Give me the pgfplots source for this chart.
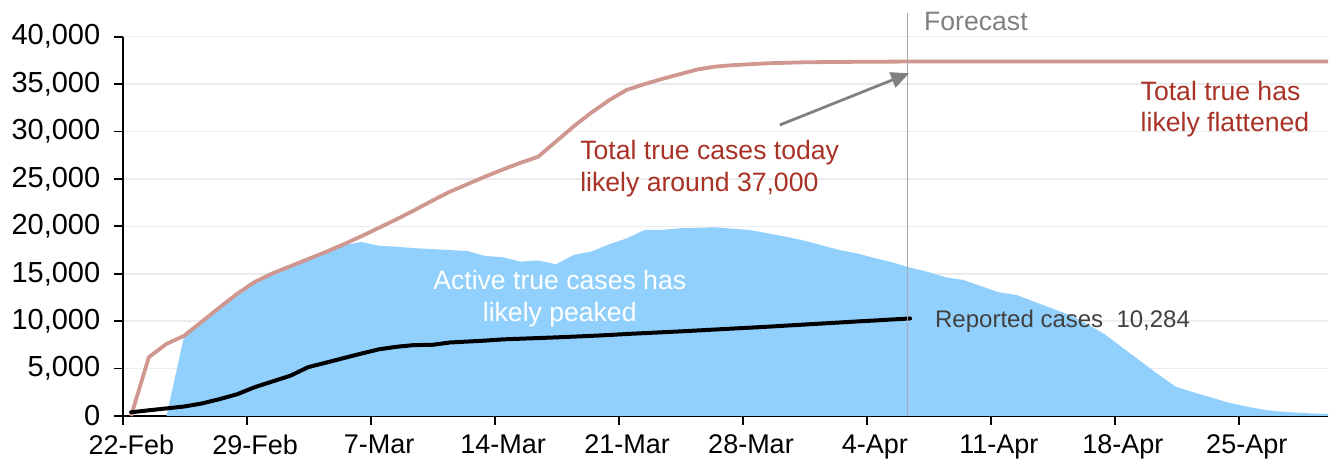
\documentclass[border=0pt]{standalone}
\usepackage{fontspec}
\setmainfont{Liberation Sans}
\usepackage{pgfplots}
\pgfplotsset{compat=1.18}
\usetikzlibrary{arrows.meta}
\definecolor{actblue}{RGB}{145,208,253}
\definecolor{totpink}{RGB}{207,151,143}
\definecolor{annred}{RGB}{169,50,38}
\definecolor{gridgray}{RGB}{236,236,236}
\definecolor{fcgray}{RGB}{170,170,170}
\definecolor{arrgray}{RGB}{128,128,128}
\definecolor{txtgray}{RGB}{64,64,64}
\begin{document}
\begin{tikzpicture}
\begin{axis}[
 name=ax,
 at={(0,0)}, anchor=south west,
 scale only axis,
 width=602.35pt, height=189.65pt,
 xmin=-0.44, xmax=67.6,
 ymin=0, ymax=40000,
 axis x line*=bottom, axis y line*=left,
 axis line style={line width=0.9pt, -},
 xtick={-0.44,6.56,13.56,20.56,27.56,34.56,41.56,48.56,55.56,62.56},
 xticklabels={22-Feb,29-Feb,7-Mar,14-Mar,21-Mar,28-Mar,4-Apr,11-Apr,18-Apr,25-Apr},
 ytick={0,5000,...,40000},
 tick align=outside,
 major tick length=4.5pt,
 tick style={line width=0.9pt, black},
 ymajorgrids, grid style={gridgray, line width=0.8pt},
 yticklabel style={font=\fontsize{14.5}{17}\selectfont, xshift=-3.5pt},
 xticklabel style={font=\fontsize{13.5}{16}\selectfont, xshift=4pt, yshift=-1.5pt},
 scaled y ticks=false,
 clip=false,
 /pgf/number format/1000 sep={,},
 /pgf/number format/assume math mode=true,
]
% Active true cases (area)
\addplot[fill=actblue, draw=none] coordinates {
(2,0)(3,8470)(4,9950)(5,11450)(6,12900)(7,14150)(8,15050)(9,15800)(10,16550)
(11,17300)(12,18000)(13,18350)(14,17950)(15,17850)(16,17700)(17,17600)(18,17500)
(19,17400)(20,16880)(21,16740)(22,16280)(23,16400)(24,16000)(25,16990)(26,17340)
(27,18110)(28,18740)(29,19620)(30,19620)(31,19800)(32,19850)(33,19900)(34,19750)
(35,19600)(36,19250)(37,18900)(38,18500)(39,18000)(40,17500)(41,17150)(42,16650)
(43,16200)(44,15650)(45,15200)(46,14630)(47,14350)(48,13700)(49,13050)(50,12770)
(51,12050)(52,11350)(53,10650)(54,9700)(55,8600)(56,7200)(57,5800)(58,4400)
(59,3090)(60,2500)(61,1950)(62,1400)(63,1000)(64,650)(65,450)(66,330)(67,250)(67.6,220)
} \closedcycle;
% Total true cases
\addplot[totpink, line width=1.9pt, line join=round] coordinates {
(0,0)(1,6200)(2,7600)(3,8470)(4,9950)(5,11450)(6,12900)(7,14150)(8,15050)(9,15800)
(10,16550)(11,17300)(12,18100)(13,18950)(14,19850)(15,20750)(16,21700)(17,22700)
(18,23650)(19,24450)(20,25250)(21,26000)(22,26700)(23,27350)(24,28950)(25,30550)
(26,32000)(27,33300)(28,34400)(29,35000)(30,35550)(31,36050)(32,36550)(33,36850)
(34,37000)(35,37100)(36,37200)(37,37250)(38,37300)(39,37320)(40,37340)(41,37350)
(42,37360)(43,37370)(44,37380)(46,37380)(48,37380)(50,37380)(52,37390)(54,37390)
(56,37390)(58,37390)(60,37390)(62,37390)(64,37390)(66,37390)(67.6,37390)
};
% Reported cases
\addplot[black, line width=2pt, line join=round, line cap=round] coordinates {
(0,390)(1,600)(2,800)(3,1000)(4,1320)(5,1780)(6,2300)(7,3050)(8,3650)(9,4250)
(10,5150)(11,5620)(12,6100)(13,6580)(14,7030)(15,7300)(16,7480)(17,7500)(18,7750)
(19,7850)(20,7950)(21,8080)(22,8150)(23,8220)(24,8290)(25,8370)(26,8450)(27,8540)
(28,8650)(29,8740)(30,8830)(31,8920)(32,9020)(33,9120)(34,9220)(35,9320)(36,9420)
(37,9530)(38,9640)(39,9750)(40,9860)(41,9970)(42,10070)(43,10180)(44,10284)
};
% forecast line
\draw[fcgray, line width=0.6pt] (axis cs:43.84,0) -- (axis cs:43.84,42500);
\node[anchor=base west, inner sep=0pt, text=arrgray, font=\fontsize{13.3}{16}\selectfont] at (axis cs:44.77,40700) {Forecast};
% arrow
\draw[arrgray, line width=1.4pt, -{Triangle[length=9pt,width=8pt]}] (axis cs:36.64,30690) -- (axis cs:43.94,36140);
% annotations
\node[anchor=base west, inner sep=0pt, text=annred, font=\fontsize{13.3}{16}\selectfont] at (axis cs:25.35,27000) {Total true cases today};
\node[anchor=base west, inner sep=0pt, text=annred, font=\fontsize{13.3}{16}\selectfont] at (axis cs:25.35,23650) {likely around 37,000};
\node[anchor=base west, inner sep=0pt, text=annred, font=\fontsize{13.3}{16}\selectfont] at (axis cs:57.0,33320) {Total true has};
\node[anchor=base west, inner sep=0pt, text=annred, font=\fontsize{13.3}{16}\selectfont] at (axis cs:57.0,29980) {likely flattened};
\node[anchor=base, inner sep=0pt, text=white, font=\fontsize{13.3}{16}\selectfont] at (axis cs:24.21,13290) {Active true cases has};
\node[anchor=base, inner sep=0pt, text=white, font=\fontsize{13.3}{16}\selectfont] at (axis cs:24.21,9940) {likely peaked};
\node[anchor=base west, inner sep=0pt, text=txtgray, font=\fontsize{12}{14}\selectfont] at (axis cs:45.39,9310) {Reported cases\ \ 10,284};
\end{axis}
\pgfresetboundingbox
\path[use as bounding box] ([shift={(-61.65pt,-24pt)}]ax.south west) rectangle ([shift={(603.35pt,208pt)}]ax.south west);
\end{tikzpicture}
\end{document}
